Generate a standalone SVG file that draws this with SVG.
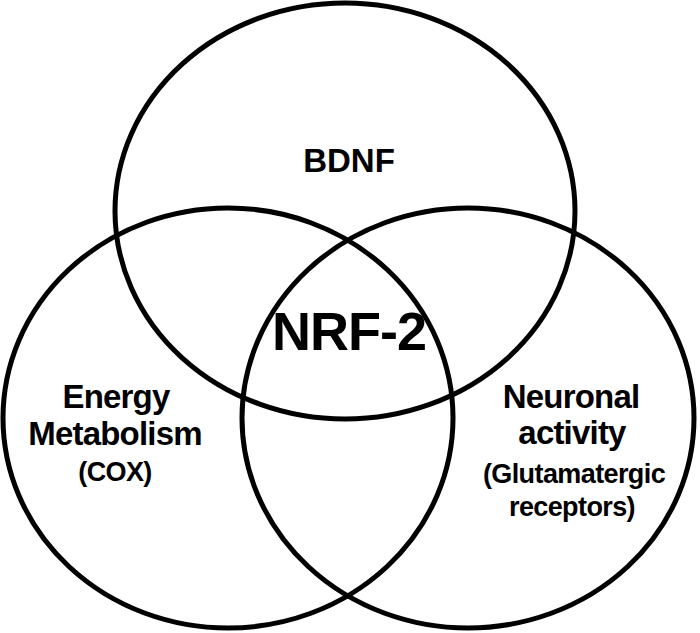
<svg xmlns="http://www.w3.org/2000/svg" width="700" height="633" viewBox="0 0 700 633">
<style>
.c{fill:none;stroke:#000;stroke-width:5}
.t{font-family:"Liberation Sans",Arial,sans-serif;font-weight:bold;text-anchor:middle;fill:#000}
.m{font-size:33px;letter-spacing:-0.8px}
.s{font-size:27px;letter-spacing:-0.6px}
</style>
<rect width="700" height="633" fill="#fff"/>
<g id="bdnf">
<ellipse class="c" cx="345" cy="211" rx="230" ry="208"/>
<text class="t" x="349" y="172" font-size="33">BDNF</text>
</g>
<g id="energy">
<ellipse class="c" cx="228" cy="418" rx="225" ry="210"/>
<text class="t m" x="116" y="408">Energy</text>
<text class="t m" x="115" y="445">Metabolism</text>
<text class="t s" x="115" y="481">(COX)</text>
</g>
<g id="neuronal">
<ellipse class="c" cx="468" cy="418" rx="226" ry="210"/>
<text class="t m" x="571" y="408">Neuronal</text>
<text class="t m" x="572" y="444">activity</text>
<text class="t s" x="574" y="483">(Glutamatergic</text>
<text class="t s" x="572" y="516">receptors)</text>
</g>
<g id="nrf2">
<text class="t" x="349" y="350" font-size="54" letter-spacing="-1">NRF-2</text>
</g>
<g id="connectors"/>
</svg>
